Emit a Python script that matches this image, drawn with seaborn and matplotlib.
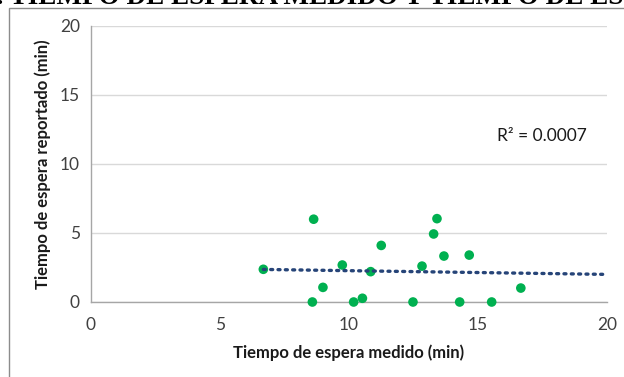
import numpy as np
import pandas as pd
import matplotlib
matplotlib.use("Agg")
import matplotlib.pyplot as plt
import matplotlib.patches as mpatches
import seaborn as sns

# Data
medido = [6.68, 8.58, 8.63, 8.99, 9.74, 10.18, 10.52, 10.84, 11.25, 12.48,
          12.83, 13.28, 13.41, 13.68, 14.29, 14.66, 15.53, 16.66]
reportado = [2.37, 0.0, 6.0, 1.06, 2.68, 0.0, 0.27, 2.2, 4.1, 0.0,
             2.6, 4.93, 6.04, 3.33, 0.0, 3.4, 0.0, 1.01]
x_ticks = [0, 5, 10, 15, 20]
y_ticks = [0, 5, 10, 15, 20]
r2_label = "R² = 0.0007"
title_text = "1. TIEMPO DE ESPERA MEDIDO Y TIEMPO DE ESPERA REPORTADO"
x_label = "Tiempo de espera medido (min)"
y_label = "Tiempo de espera reportado (min)"

df = pd.DataFrame({"medido": medido, "reportado": reportado})

sns.set_theme(style="white")
plt.rcParams["font.family"] = ["Lato", "DejaVu Sans"]

W, H = 624, 377
fig = plt.figure(figsize=(W / 100, H / 100), dpi=100)
ax = fig.add_axes([91 / W, 1 - 302 / H, (607 - 91) / W, (302 - 26) / H])

# horizontal gridlines
ax.set_axisbelow(True)
ax.yaxis.grid(True, color="#D9D9D9", linewidth=1.0)
ax.xaxis.grid(False)

sns.scatterplot(data=df, x="medido", y="reportado", ax=ax, color="#00B050",
                s=48, edgecolor="none", zorder=3, clip_on=False)

# linear trendline (forward extended to x = 20 like Excel)
slope, intercept = np.polyfit(df["medido"], df["reportado"], 1)
xs = np.array([min(medido), 20])
ax.plot(xs, slope * xs + intercept, linestyle=(0, (0.6, 1.6)), color="#264478",
        linewidth=2.4, dash_capstyle="round", zorder=4)

ax.set_xlim(0, 20)
ax.set_ylim(0, 20)
ax.set_xticks(x_ticks)
ax.set_yticks(y_ticks)
ax.tick_params(axis="both", direction="out", length=4, width=1, color="#A6A6A6",
               labelsize=12.5, labelcolor="#404040", pad=4)
ax.tick_params(axis="x", pad=7)
for side in ["top", "right"]:
    ax.spines[side].set_visible(False)
for side in ["left", "bottom"]:
    ax.spines[side].set_color("#A6A6A6")
    ax.spines[side].set_linewidth(1)

ax.set_xlabel(x_label, fontsize=12, fontweight="bold", color="#1a1a1a", labelpad=8)
ax.set_ylabel(y_label, fontsize=12, fontweight="bold", color="#1a1a1a", labelpad=6)

ax.text(0.787, 0.6, r2_label, transform=ax.transAxes, fontsize=12.5,
        color="#1a1a1a", ha="left", va="center")

# outer chart border (cropped on right/bottom)
rect = mpatches.Rectangle((9 / W, -0.2), 1.2, 1.2 - 8 / H, transform=fig.transFigure,
                          fill=False, edgecolor="#8C8C8C", linewidth=1.0, clip_on=False)
fig.add_artist(rect)

# cropped document title at the very top
fig.text((10 - 27) / W, 1 - 4.5 / H, title_text, fontsize=19.5, fontweight="bold",
         family=["Liberation Serif", "DejaVu Serif"], va="baseline", ha="left",
         color="#000000")

fig.savefig("out.png", dpi=100)
